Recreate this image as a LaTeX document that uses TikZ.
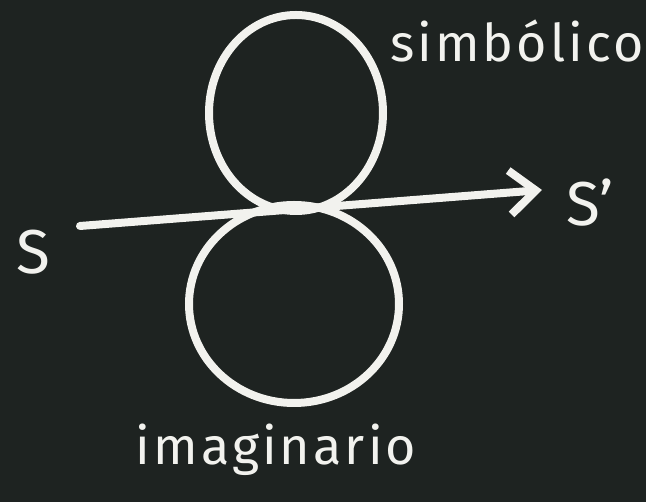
\documentclass[tikz,border=0pt]{standalone}
\usepackage{fontspec}
\setmainfont{Fira Sans}
\usetikzlibrary{shapes.geometric, arrows.meta, positioning}

\definecolor{board}{HTML}{1E2321}
\definecolor{chalk}{HTML}{F2F2EE}

\begin{document}
\begin{tikzpicture}[
    x=1pt, y=1pt,
    loop/.style={ellipse, draw=chalk, line width=8pt, inner sep=0pt},
    label/.style={text=chalk, inner sep=0pt, anchor=base},
    arrow/.style={-{Straight Barb[length=26pt, width=44pt]}, draw=chalk,
                  line width=8pt, line cap=round},
    lbl/.style={font=\fontsize{52}{60}\selectfont\addfontfeature{LetterSpace=6}}
]

%% FONS
\fill[board] (0,0) rectangle (646,502);
\useasboundingbox (0,0) rectangle (646,502);

%% ANELLS
\node[loop, minimum width=174pt, minimum height=196pt] (simb) at (296,389) {};
\node[loop, minimum width=210pt, minimum height=198pt] (imag) at (294,198) {};

%% ETIQUETES
\node[label, lbl] (simb_lbl) at (517,440) {simbólico};
\node[label, lbl] (imag_lbl) at (276,37) {imaginario};
\node[label, font=\fontsize{62}{70}\selectfont] (s) at (33,228) {S};
\node[label, font=\fontsize{62}{70}\selectfont] (sp) at (590,276) {S'};

%% FLETXA
\coordinate (tail) at (80,276);
\coordinate (head) at (542,312);
\draw[arrow] (tail) -- (head);

\end{tikzpicture}
\end{document}
